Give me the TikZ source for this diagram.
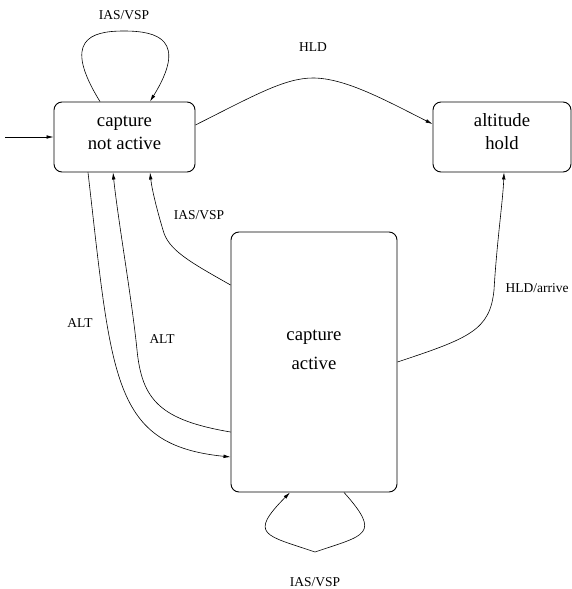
\documentclass[tikz,border=0pt]{standalone}
\usepackage{fontspec}
\setmainfont{Liberation Serif}
\usepackage{tikz}
\usetikzlibrary{arrows.meta}
\newcommand{\stext}[2]{\raisebox{#1}[\height][\depth]{\begin{tabular}{@{}c@{}}#2\end{tabular}}}

\begin{document}
\begin{tikzpicture}[x=1pt,y=-1pt,
    state/.style={draw,rounded corners=8pt,line width=0.9pt,font=\fontsize{18.7}{23}\selectfont},
    trans/.style={line width=0.6pt,-{Latex[length=7pt,width=3.6pt]}},
    lbl/.style={font=\fontsize{13.5}{16}\selectfont}]
    \useasboundingbox (0,0) rectangle (572,589);
    % states
    \node[state,minimum width=141pt,minimum height=70pt] (notactive) at (124.5,137) {\stext{4pt}{capture\\not active}};
    \node[state,minimum width=138pt,minimum height=70pt] (hold) at (502,137) {\stext{3.5pt}{altitude\\hold}};
    \node[state,minimum width=166pt,minimum height=260pt] (active) at (314,362) {\stext{12pt}{capture\\[6pt]active}};
    % initial
    \coordinate (init) at (5,137);
    \draw[trans] (init) -- (notactive.west);
    % transitions
    \draw[trans] ([xshift=-24.5pt]notactive.north) .. controls (62,40) and (90,31) .. (124,31)
        .. controls (158,31) and (188,40) .. ([xshift=25.5pt]notactive.north);
    \draw[trans] ([yshift=12pt]notactive.east) .. controls (255,95) and (285,78) .. (313,78)
        .. controls (345,78) and (385,100) .. ([yshift=13pt]hold.west);
    \draw[trans] (active.east) .. controls (470,338) and (490,330) .. (494,290)
        .. controls (497,240) and (503,200) .. ([xshift=2pt]hold.south);
    \draw[trans] ([yshift=77pt]active.west) .. controls (190,262) and (168,250) .. (163,230)
        .. controls (157,210) and (152,190) .. ([xshift=25.5pt]notactive.south);
    \draw[trans] ([xshift=-36.5pt]notactive.south) .. controls (112,380) and (112,445) .. ([yshift=-95pt]active.west);
    \draw[trans] ([yshift=-70pt]active.west) .. controls (160,420) and (142,400) .. (137,350)
        .. controls (132,300) and (118,220) .. ([xshift=-11.5pt]notactive.south);
    \draw[trans] ([xshift=30pt]active.south) .. controls (382,535) and (365,535) .. (315,552)
        .. controls (265,535) and (248,535) .. ([xshift=-24pt]active.south);
    % labels
    \node[lbl] (l1) at (124,15) {IAS/VSP};
    \node[lbl] (l2) at (313,47) {HLD};
    \node[lbl] (l3) at (199,215) {IAS/VSP};
    \node[lbl] (l4) at (80,323) {ALT};
    \node[lbl] (l5) at (162,339) {ALT};
    \node[lbl] (l6) at (537,288) {HLD/arrive};
    \node[lbl] (l7) at (315,582) {IAS/VSP};
\end{tikzpicture}
\end{document}
